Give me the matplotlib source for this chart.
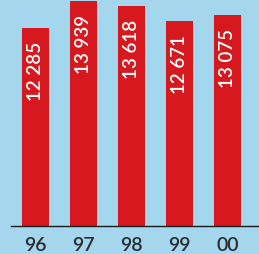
import matplotlib.pyplot as plt
import numpy as np

# data
years = ["96", "97", "98", "99", "00"]
values = [12285, 13939, 13618, 12671, 13075]
labels = ["12 285", "13 939", "13 618", "12 671", "13 075"]

bg = "#a4d6ee"
red = "#d6181f"

fig = plt.figure(figsize=(2.59, 2.55), dpi=100, facecolor=bg)
ax = fig.add_axes([11 / 259, 28 / 255, 248 / 259, 227 / 255])
ax.set_facecolor(bg)

x = np.arange(len(years))
ax.bar(x, values, width=0.5625, color=red, zorder=2)

for xi, v, lab in zip(x, values, labels):
    ax.annotate(lab, xy=(xi, v), xytext=(0, -13), textcoords="offset pixels",
                rotation=90, ha="center", va="top", color="white",
                fontsize=13.5, family="Lato", fontweight="semibold")

ax.set_xlim(-0.51, 4.66)
ax.set_ylim(0, 14050)
ax.set_xticks(x)
ax.set_xticklabels(years, fontsize=14, family="Lato", fontweight="semibold",
                   color="#2b2b2b")
ax.tick_params(axis="x", length=0, pad=7)
ax.set_yticks([])
for s in ["top", "left", "right"]:
    ax.spines[s].set_visible(False)
ax.spines["bottom"].set_color("#1a1a1a")
ax.spines["bottom"].set_linewidth(1.0)

fig.savefig("out.png", dpi=100, facecolor=bg)
